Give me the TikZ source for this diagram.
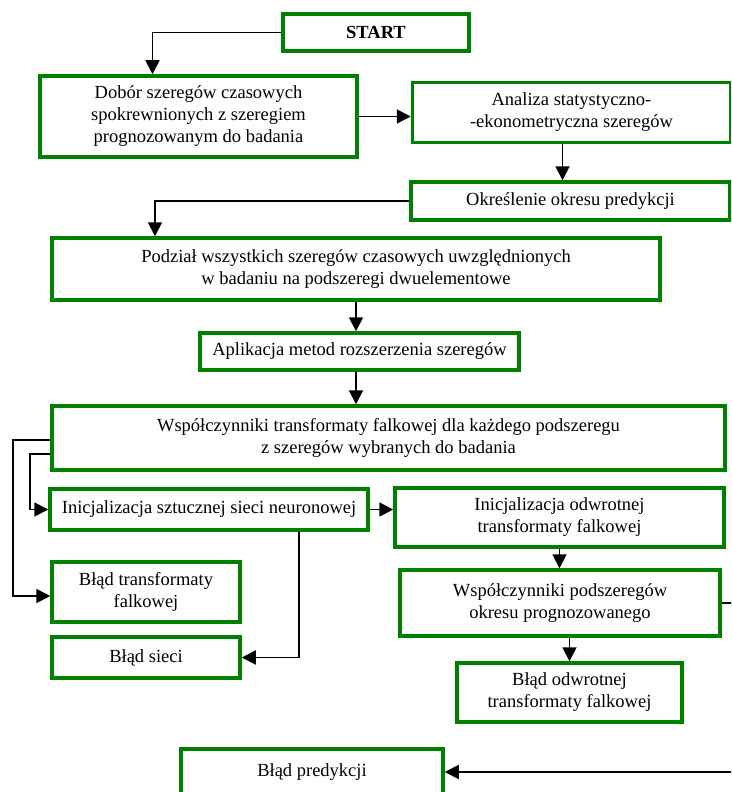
\documentclass[tikz,border=0pt]{standalone}
\usepackage{fontspec}
\setmainfont{Liberation Serif}
\usetikzlibrary{arrows.meta,positioning}
\definecolor{ramka}{RGB}{0,128,0}

\begin{document}
\begin{tikzpicture}[
  x=1pt, y=-1pt,
  line width=1.8pt,
  box/.style={draw=ramka, line width=3.5pt, align=center, inner sep=0pt, font=\fontsize{18.5}{22}\selectfont},
  >={Triangle[length=14pt,width=14pt]}
]
\clip (0,0) rectangle (731,792);
\node[box, minimum width=186pt, minimum height=37pt] (start) at (376,32.5) {\textbf{START}};
\node[box, minimum width=317pt, minimum height=81pt] (dobor) at (198.5,116.5) {Dobór szeregów czasowych\\spokrewnionych z szeregiem\\prognozowanym do badania};
\node[box, minimum width=318pt, minimum height=60pt] (analiza) at (571.5,112.5) {Analiza statystyczno-\\-ekonometryczna szeregów};
\node[box, minimum width=319pt, minimum height=38pt] (okres) at (570.5,201) {Określenie okresu predykcji};
\node[box, minimum width=608pt, minimum height=62pt] (podzial) at (356,269) {Podział wszystkich szeregów czasowych uwzględnionych\\w badaniu na podszeregi dwuelementowe};
\node[box, minimum width=319pt, minimum height=37pt] (aplik) at (359.5,351.5) {Aplikacja metod rozszerzenia szeregów};
\node[box, minimum width=673pt, minimum height=64pt] (wspol) at (388.5,438) {Współczynniki transformaty falkowej dla każdego podszeregu\\z szeregów wybranych do badania};
\node[box, minimum width=318pt, minimum height=41pt] (inisiec) at (209,509.5) {Inicjalizacja sztucznej sieci neuronowej};
\node[box, minimum width=329pt, minimum height=59pt] (iniodw) at (559.5,517.5) {Inicjalizacja odwrotnej\\transformaty falkowej};
\node[box, minimum width=188pt, minimum height=60pt] (bladtr) at (146,592) {Błąd transformaty\\falkowej};
\node[box, minimum width=188pt, minimum height=41pt] (bladsiec) at (146,657.5) {Błąd sieci};
\node[box, minimum width=320pt, minimum height=66pt] (wsppodsz) at (560,603) {Współczynniki podszeregów\\okresu prognozowanego};
\node[box, minimum width=225pt, minimum height=59pt] (bladodw) at (569.5,692.5) {Błąd odwrotnej\\transformaty falkowej};
\node[box, minimum width=262pt, minimum height=46pt] (bladpred) at (312,772) {Błąd predykcji};

\draw[->] (start.west) -| ([xshift=-46pt]dobor.north);
\draw[->] (dobor.east) -- (dobor.east -| analiza.west);
\draw[->] ([xshift=-8pt]okres.north |- analiza.south) -- ([xshift=-8pt]okres.north);
\draw[->] (okres.west) -| ([xshift=-201pt]podzial.north);
\draw[->] (podzial.south) -- (podzial.south |- aplik.north);
\draw[->] (podzial.south |- aplik.south) -- (podzial.south |- wspol.north);
\draw[->] ([yshift=-2pt]wspol.west) -- ++(-37,0) |- ([yshift=-4pt]bladtr.west);
\draw[->] ([yshift=-16pt]wspol.west) -- ++(-20,0) |- (inisiec.west);
\draw[->] (inisiec.east) -- (inisiec.east -| iniodw.west);
\draw[->] ([xshift=90pt]inisiec.south) |- (bladsiec.east);
\draw[->] (iniodw.south) -- (iniodw.south |- wsppodsz.north);
\draw[->] (bladodw.north |- wsppodsz.south) -- (bladodw.north);
\draw[->] (wsppodsz.east) -- ++(30,0) |- (bladpred.east);
\end{tikzpicture}
\end{document}
